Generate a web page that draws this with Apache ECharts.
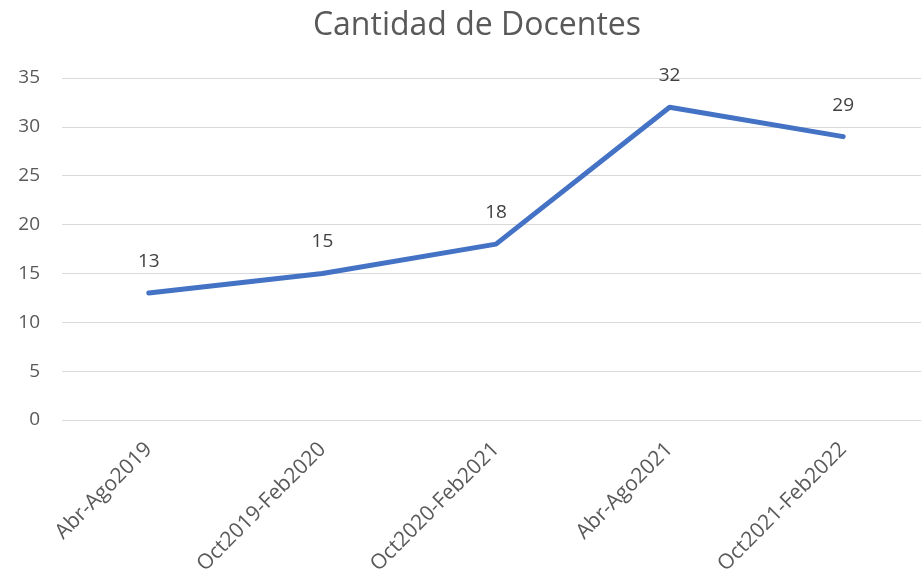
<!DOCTYPE html>
<html>
<head>
<meta charset="utf-8">
<script src="https://cdn.jsdelivr.net/npm/echarts@6/dist/echarts.min.js"></script>
<style>
  html, body { margin: 0; padding: 0; background: #fff; }
  #chart { width: 921px; height: 576px; }
</style>
</head>
<body>
<div id="chart"></div>
<script>
var periodos = ['Abr-Ago2019', 'Oct2019-Feb2020', 'Oct2020-Feb2021', 'Abr-Ago2021', 'Oct2021-Feb2022'];
var docentes = [13, 15, 18, 32, 29];
var tituloGrafico = 'Cantidad de Docentes';

var myChart = echarts.init(document.getElementById('chart'));
var fuente = '"Open Sans", "Noto Sans", sans-serif';

var option = {
    backgroundColor: '#fff',
    title: {
        text: tituloGrafico,
        left: 472,
        top: 5,
        textAlign: 'center',
        textStyle: { color: '#595959', fontSize: 32, fontWeight: 'normal', fontFamily: fuente }
    },
    // el área de trazado sigue más allá del borde derecho
    grid: { left: 62, width: 868, top: 78, bottom: 156, outerBoundsMode: 'none', containLabel: false },
    xAxis: {
        type: 'category',
        data: periodos,
        boundaryGap: true,
        axisLine: { show: false },
        axisTick: { show: false },
        axisLabel: { rotate: 45, margin: 26, color: '#595959', fontSize: 21, fontFamily: fuente, interval: 0 }
    },
    yAxis: {
        type: 'value',
        min: 0,
        max: 35,
        interval: 5,
        axisLine: { show: false },
        axisTick: { show: false },
        axisLabel: { margin: 22, color: '#595959', fontSize: 19, fontFamily: fuente },
        splitLine: { lineStyle: { color: '#d9d9d9', width: 1 } }
    },
    series: [{
        name: 'Docentes',
        type: 'line',
        data: docentes,
        symbol: 'circle',
        symbolSize: 2,
        showSymbol: true,
        lineStyle: { color: '#4472c4', width: 5, cap: 'round', join: 'round' },
        itemStyle: { color: '#4472c4' },
        label: {
            show: true,
            position: 'top',
            distance: 21,
            color: '#404040',
            fontSize: 19,
            fontFamily: fuente
        },
        animation: false
    }]
};

myChart.setOption(option);
</script>
</body>
</html>
